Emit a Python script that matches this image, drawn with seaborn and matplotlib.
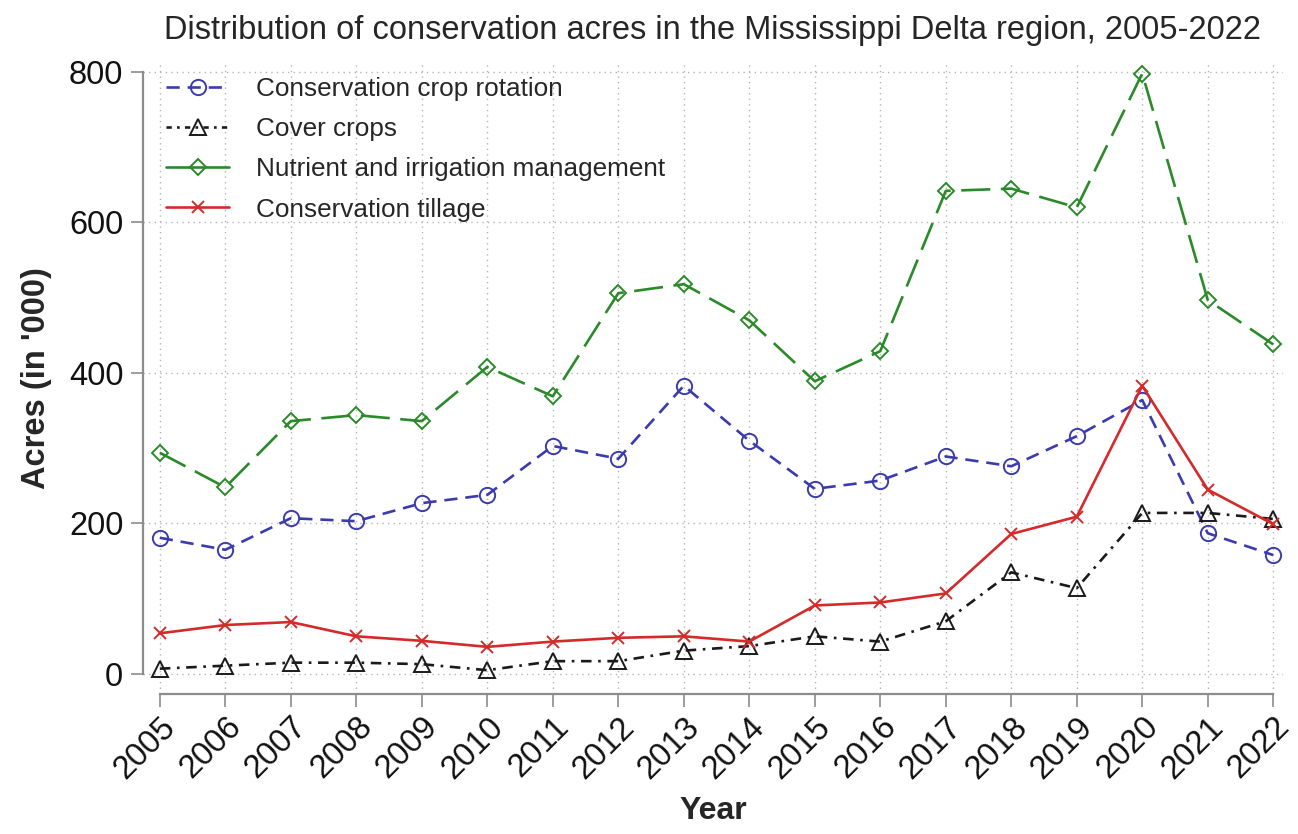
import numpy as np
import pandas as pd
import seaborn as sns
import matplotlib.pyplot as plt
from matplotlib.lines import Line2D

# 数据（千英亩）
years = list(range(2005, 2023))
crop_rotation = [181, 165, 207, 203, 227, 238, 303, 286, 383, 310, 246, 257, 289, 276, 316, 364, 187, 158]
cover_crops = [7, 11, 15, 15, 13, 5, 17, 17, 31, 37, 50, 43, 70, 135, 114, 214, 214, 206]
nutrient_irrigation = [294, 248, 336, 344, 336, 408, 369, 506, 518, 470, 389, 429, 642, 645, 620, 798, 497, 438]
tillage = [54, 65, 69, 50, 44, 36, 43, 48, 50, 43, 91, 95, 107, 186, 209, 383, 245, 199]

series_names = ["Conservation crop rotation", "Cover crops",
                "Nutrient and irrigation management", "Conservation tillage"]
series_values = [crop_rotation, cover_crops, nutrient_irrigation, tillage]

sns.set_theme(style="white")
plt.rcParams['font.family'] = ['Liberation Sans', 'DejaVu Sans']

fig = plt.figure(figsize=(12.98, 8.34), dpi=100)
ax = fig.add_axes([0.110, 0.168, 0.8785, 0.7565])

# 每条线的样式
styles = {
    "Conservation crop rotation": dict(color='#3b3bb0', marker='o', ls=(0, (5, 3)), ms=11, leg_ls=(0, (5, 3))),
    "Cover crops": dict(color='#1a1a1a', marker='^', ls=(0, (4, 2.5, 1, 2.5)), ms=11, leg_ls=(0, (2, 2, 1, 2))),
    "Nutrient and irrigation management": dict(color='#2a8a2a', marker='D', ls=(0, (11, 4)), ms=11, leg_ls='-'),
    "Conservation tillage": dict(color='#d42a2a', marker='x', ls='-', ms=9, leg_ls='-'),
}

for name, vals in zip(series_names, series_values):
    st = styles[name]
    ms = st['ms'] * (0.78 if st['marker'] == 'D' else 1)
    sns.lineplot(x=years, y=vals, ax=ax, color=st['color'], marker=st['marker'],
                 linestyle=st['ls'], linewidth=1.9, markersize=ms,
                 markerfacecolor='none', markeredgecolor=st['color'],
                 markeredgewidth=1.4)

ax.set_xlim(2004.74, 2022.15)
ax.set_ylim(-26.5, 812)
ax.set_xticks(years)
ax.set_yticks([0, 200, 400, 600, 800])

# 网格线
ax.grid(True, linestyle=(0, (1, 3)), color='#b5b5b5', linewidth=1.0)

# Stata 风格的坐标轴
for s in ['top', 'right']:
    ax.spines[s].set_visible(False)
ax.spines['left'].set_bounds(0, 800)
ax.spines['bottom'].set_bounds(2005, 2022)
for s in ['left', 'bottom']:
    ax.spines[s].set_color('#8c8c8c')
    ax.spines[s].set_linewidth(1.6)
ax.tick_params(axis='both', direction='out', length=9, width=1.2, color='#8c8c8c',
               labelsize=23.5, labelcolor='#111111', left=True, bottom=True)
ax.tick_params(axis='y', pad=5)
plt.setp(ax.get_xticklabels(), rotation=45, ha='right', rotation_mode='anchor')

ax.set_title("Distribution of conservation acres in the Mississippi Delta region, 2005-2022",
             fontsize=23.5, pad=17)
ax.set_xlabel("Year", fontsize=23, fontweight='bold', labelpad=8)
ax.set_ylabel("Acres (in '000)", fontsize=23.5, fontweight='bold', labelpad=12)

# 图例
handles = []
for name in series_names:
    st = styles[name]
    ms = st['ms'] * (0.78 if st['marker'] == 'D' else 1)
    handles.append(Line2D([0], [0], color=st['color'], linestyle=st['leg_ls'], linewidth=1.9,
                          marker=st['marker'], markersize=ms, markerfacecolor='none',
                          markeredgecolor=st['color'], markeredgewidth=1.4))
ax.legend(handles, series_names, loc='upper left', frameon=False, fontsize=18.8,
          handlelength=2.4, handletextpad=1.05, labelspacing=0.62,
          bbox_to_anchor=(0.0, 1.015))

fig.savefig("out.png", dpi=100)
